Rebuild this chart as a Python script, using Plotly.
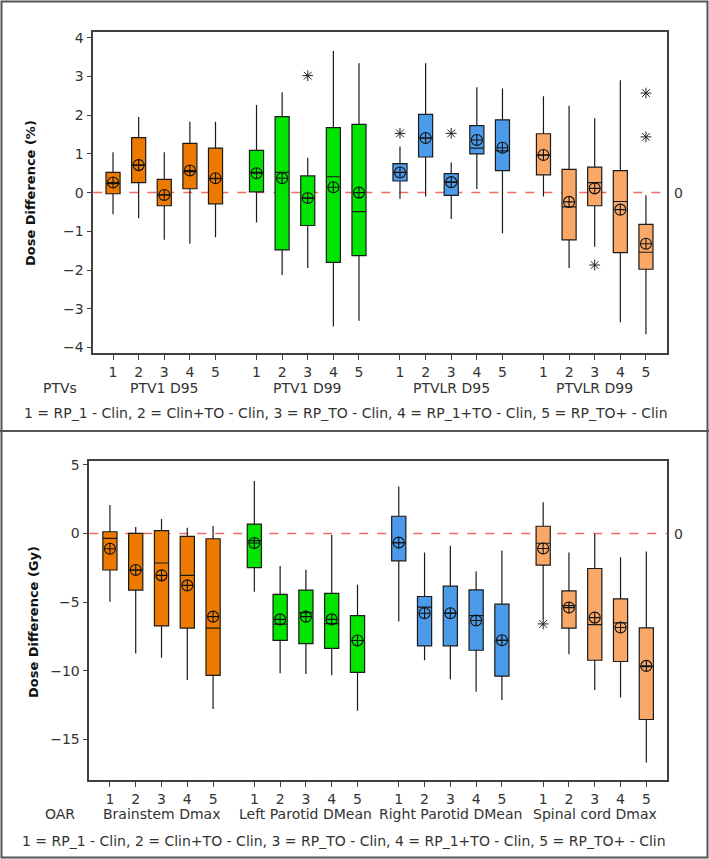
import plotly.graph_objects as go

W, H = 709, 859

# ---------------- data ----------------
item_labels = ["1", "2", "3", "4", "5"]

ptv_groups = ["PTV1 D95", "PTV1 D99", "PTVLR D95", "PTVLR D99"]
ptv_upper = [1.04, 1.95, 1.04, 1.83, 1.83, 2.26, 2.59, 0.90, 3.66, 3.34,
             1.19, 3.34, 0.78, 2.72, 2.69, 2.49, 2.24, 1.92, 2.90, -0.07]
ptv_q3 = [0.52, 1.42, 0.34, 1.27, 1.15, 1.09, 1.96, 0.43, 1.68, 1.76,
          0.75, 2.02, 0.49, 1.73, 1.88, 1.52, 0.60, 0.66, 0.57, -0.82]
ptv_median = [0.23, 0.71, -0.06, 0.54, 0.36, 0.52, 0.52, -0.14, 0.41, -0.49,
              0.52, 1.41, 0.27, 1.15, 1.08, 0.97, -0.37, 0.26, -0.23, -1.54]
ptv_mean = [0.26, 0.71, -0.06, 0.57, 0.37, 0.50, 0.37, -0.14, 0.14, 0.00,
            0.52, 1.41, 0.27, 1.36, 1.16, 0.97, -0.24, 0.11, -0.44, -1.32]
ptv_q1 = [-0.03, 0.26, -0.34, 0.10, -0.29, 0.02, -1.48, -0.85, -1.80, -1.63,
          0.30, 0.92, -0.07, 1.00, 0.57, 0.46, -1.22, -0.34, -1.55, -1.98]
ptv_lower = [-0.56, -0.66, -1.22, -1.32, -1.15, -0.77, -2.13, -1.95, -3.46, -3.31,
             -0.16, -0.10, -0.68, 0.09, -1.05, -0.10, -1.95, -1.40, -3.35, -3.66]
# outliers: (group index, item index, value)
ptv_out_group = [1, 2, 2, 3, 3, 3]
ptv_out_item = [2, 0, 2, 2, 4, 4]
ptv_out_value = [3.02, 1.53, 1.53, -1.87, 2.57, 1.44]

oar_groups = ["Brainstem Dmax", "Left Parotid DMean", "Right Parotid DMean", "Spinal cord Dmax"]
oar_upper = [2.08, 0.47, 1.06, 0.43, 0.55, 3.83, -2.37, -2.64, -0.11, -3.74,
             3.43, -1.39, -0.90, -2.77, -1.24, 2.28, -1.39, -0.02, -1.73, -1.31]
oar_q3 = [0.13, 0.01, 0.21, -0.21, -0.38, 0.69, -4.43, -4.12, -4.36, -5.98,
          1.26, -4.59, -3.84, -4.11, -5.15, 0.53, -4.18, -2.55, -4.76, -6.88]
oar_median = [-0.35, -2.66, -2.15, -3.05, -6.89, -0.52, -6.60, -5.77, -6.57, -7.80,
              -0.66, -5.37, -5.81, -5.98, -7.78, -0.71, -5.25, -6.64, -6.51, -9.70]
oar_mean = [-1.11, -2.66, -3.05, -3.78, -6.06, -0.69, -6.26, -6.06, -6.26, -7.80,
            -0.66, -5.81, -5.81, -6.34, -7.78, -1.09, -5.40, -6.13, -6.85, -9.65]
oar_q1 = [-2.66, -4.12, -6.74, -6.89, -10.34, -2.49, -7.79, -8.03, -8.37, -10.13,
          -1.99, -8.19, -8.19, -8.51, -10.40, -2.31, -6.90, -9.24, -9.33, -13.56]
oar_lower = [-4.97, -8.74, -9.05, -10.68, -12.80, -4.24, -10.19, -10.24, -10.34, -12.93,
             -6.42, -9.24, -10.62, -11.54, -12.13, -6.25, -8.80, -11.40, -11.96, -16.70]
oar_out_group = [3]
oar_out_item = [0]
oar_out_value = [-6.59]

legend_text = "1 = RP_1 - Clin, 2 = Clin+TO - Clin, 3 = RP_TO - Clin, 4 = RP_1+TO - Clin, 5 = RP_TO+ - Clin"

# ---------------- style ----------------
group_colors = ["#EC7A00", "#00E400", "#4C9BEA", "#FAA868"]
FONT = "DejaVu Sans"
GAP = 5.6  # group step in position units


def pos(g, i):
    return g * GAP + i


fig = go.Figure()


def add_panel(xref, yref, upper, q3, med, mean, q1, lower, og, oi, ov):
    for g in range(4):
        sl = slice(g * 5, g * 5 + 5)
        xs = [pos(g, i) for i in range(5)]
        fig.add_trace(go.Box(
            x=xs, q1=q1[sl], median=med[sl], q3=q3[sl],
            lowerfence=lower[sl], upperfence=upper[sl],
            fillcolor=group_colors[g], line=dict(color="#1a1a1a", width=1.2),
            whiskerwidth=0, width=0.55, boxpoints=False,
            xaxis=xref, yaxis=yref, showlegend=False, hoverinfo="skip"))
    fig.add_trace(go.Scatter(
        x=[pos(g, i) for g in range(4) for i in range(5)], y=mean,
        mode="markers", xaxis=xref, yaxis=yref, showlegend=False,
        marker=dict(symbol="circle-cross-open", size=11, color="#111",
                    line=dict(width=1.1, color="#111"))))
    fig.add_trace(go.Scatter(
        x=[pos(g, i) for g, i in zip(og, oi)], y=ov,
        mode="markers", xaxis=xref, yaxis=yref, showlegend=False,
        marker=dict(symbol="asterisk-open", size=9, color="#222",
                    line=dict(width=1, color="#222"))))


add_panel("x", "y", ptv_upper, ptv_q3, ptv_median, ptv_mean, ptv_q1, ptv_lower,
          ptv_out_group, ptv_out_item, ptv_out_value)
add_panel("x2", "y2", oar_upper, oar_q3, oar_median, oar_mean, oar_q1, oar_lower,
          oar_out_group, oar_out_item, oar_out_value)

tickvals = [pos(g, i) for g in range(4) for i in range(5)]
ticktext = item_labels * 4


def px_x(p):
    return p / W


def px_y(p):
    return 1 - p / H


common_x = dict(tickvals=tickvals, ticktext=ticktext, showgrid=False, zeroline=False,
                showline=True, mirror=True, linecolor="#404040", linewidth=1.5,
                ticks="outside", ticklen=5, tickcolor="#404040", automargin=False,
                tickfont=dict(family=FONT, size=14, color="#333"))
common_y = dict(showgrid=False, zeroline=False, showline=True, mirror=True,
                linecolor="#404040", linewidth=1.5, ticks="outside", ticklen=5,
                tickcolor="#404040", automargin=False,
                tickfont=dict(family=FONT, size=14, color="#333"))

fig.update_layout(
    width=W, height=H, margin=dict(l=0, r=0, t=0, b=0, pad=0),
    paper_bgcolor="white", plot_bgcolor="white", showlegend=False,
    xaxis=dict(domain=[px_x(93.3), px_x(666.7)], range=[-0.77, 21.61], anchor="y", **common_x),
    yaxis=dict(domain=[px_y(353.3), px_y(32.3)], range=[-4.15, 4.14], anchor="x",
               tickvals=[-4, -3, -2, -1, 0, 1, 2, 3, 4], **common_y),
    xaxis2=dict(domain=[px_x(89.3), px_x(666.7)], range=[-0.80, 21.59], anchor="y2", **common_x),
    yaxis2=dict(domain=[px_y(780), px_y(460.7)], range=[-17.97, 5.31], anchor="x2",
                tickvals=[-15, -10, -5, 0, 5], **common_y),
)

shapes = []
# zero reference lines
for xr, yr in [("x domain", "y"), ("x2 domain", "y2")]:
    shapes.append(dict(type="line", xref=xr, yref=yr, x0=0, x1=1, y0=0, y1=0,
                       line=dict(color="#F06A6A", width=1.5, dash="dash"), layer="below"))
# outer frame and divider
shapes.append(dict(type="rect", xref="paper", yref="paper", x0=px_x(1.5), x1=px_x(707.5),
                   y0=px_y(857.5), y1=px_y(1.5), line=dict(color="#555", width=2)))
shapes.append(dict(type="line", xref="paper", yref="paper", x0=0, x1=1,
                   y0=px_y(431), y1=px_y(431), line=dict(color="#555", width=2)))
fig.update_layout(shapes=shapes)

ann = []
txt = dict(family=FONT, size=14, color="#333")
C = dict(showarrow=False, xanchor="center", yanchor="middle")
# group labels
for g, name in enumerate(ptv_groups):
    ann.append(dict(x=pos(g, 2), y=px_y(388), xref="x", yref="paper", text=name, font=txt, **C))
for g, name in enumerate(oar_groups):
    ann.append(dict(x=pos(g, 2), y=px_y(814), xref="x2", yref="paper", text=name, font=txt, **C))
ann.append(dict(x=px_x(60), y=px_y(388), xref="paper", yref="paper", text="PTVs", font=txt, **C))
ann.append(dict(x=px_x(60), y=px_y(814), xref="paper", yref="paper", text="OAR", font=txt, **C))
ann.append(dict(x=px_x(346), y=px_y(413), xref="paper", yref="paper", text=legend_text, font=txt, **C))
ann.append(dict(x=px_x(344), y=px_y(841), xref="paper", yref="paper", text=legend_text, font=txt, **C))
# right-side zero labels
ann.append(dict(x=px_x(678), y=0, xref="paper", yref="y", text="0", font=txt, **C))
ann.append(dict(x=px_x(678), y=0, xref="paper", yref="y2", text="0", font=txt, **C))
# y titles
ann.append(dict(x=px_x(31), y=px_y(193), xref="paper", yref="paper", text="<b>Dose Difference (%)</b>",
                textangle=-90, font=dict(family=FONT, size=13, color="#111"), **C))
ann.append(dict(x=px_x(33), y=px_y(622), xref="paper", yref="paper", text="<b>Dose Difference (Gy)</b>",
                textangle=-90, font=dict(family=FONT, size=13, color="#111"), **C))
fig.update_layout(annotations=ann)

fig.write_html("out.html", config={"displayModeBar": False},
               post_script="document.body.style.margin='0';")
